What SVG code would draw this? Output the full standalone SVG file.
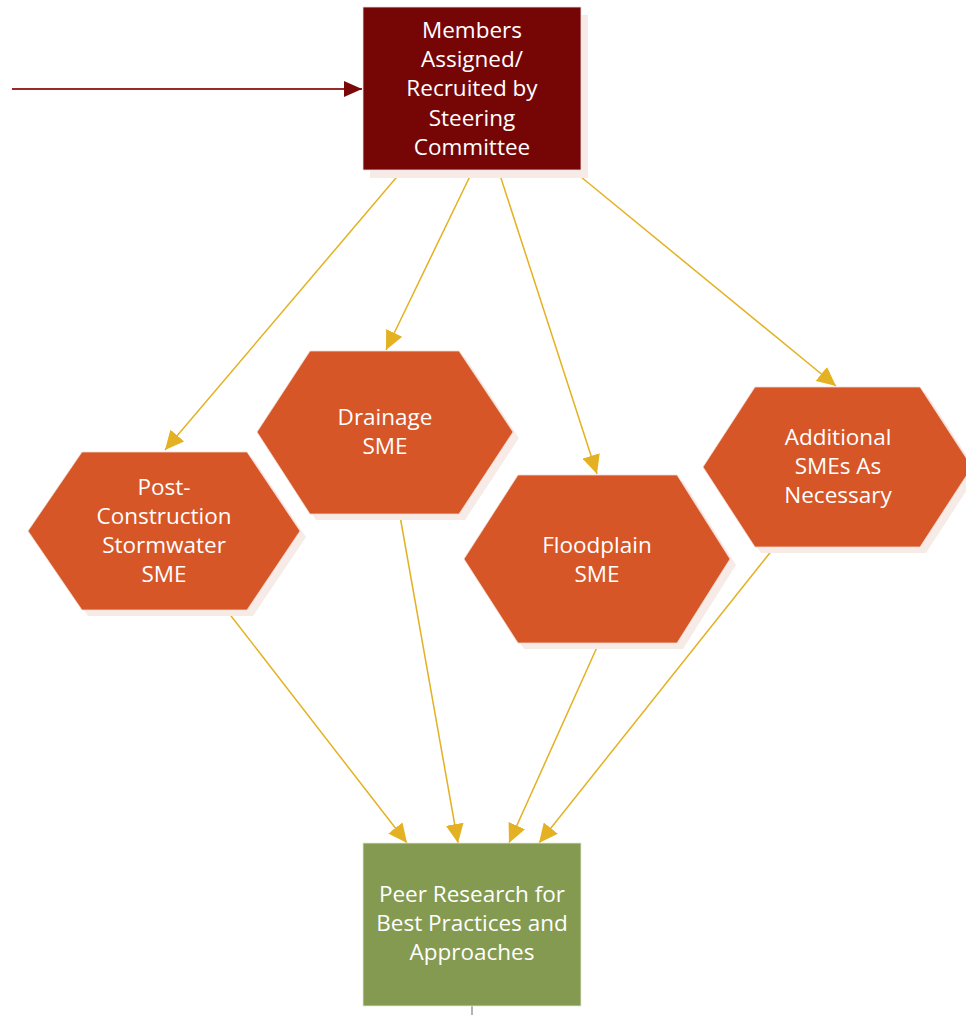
<svg xmlns="http://www.w3.org/2000/svg" width="966" height="1015" viewBox="0 0 966 1015">
<defs>
<style>
.t{font-family:"Open Sans","Noto Sans",sans-serif;font-size:22.5px;fill:#ffffff;text-anchor:middle}
.shadow{fill:#f7ebe8}
.hex{fill:#d65627;stroke:#f2d9cf;stroke-width:0.8}
.conn{stroke:#e3b121;stroke-width:1.5;fill:none;marker-end:url(#ya)}
</style>
<marker id="ya" viewBox="0 0 19 18" refX="19" refY="9" markerWidth="19" markerHeight="18" markerUnits="userSpaceOnUse" orient="auto">
<path d="M0,0 L19,9 L0,18 Z" fill="#e3b121"/>
</marker>
<marker id="ra" viewBox="0 0 18 16" refX="18" refY="8" markerWidth="18" markerHeight="16" markerUnits="userSpaceOnUse" orient="auto">
<path d="M0,0 L18,8 L0,16 Z" fill="#7a0808"/>
</marker>
</defs>
<rect width="966" height="1015" fill="#ffffff"/>

<g id="connectors">
<line x1="12" y1="89" x2="362" y2="89" stroke="#9a2a2a" stroke-width="1.8" marker-end="url(#ra)"/>
<line class="conn" x1="401" y1="172" x2="165" y2="450"/>
<line class="conn" x1="472" y1="172" x2="386" y2="350"/>
<line class="conn" x1="499" y1="172" x2="597" y2="474"/>
<line class="conn" x1="575" y1="172" x2="836" y2="386"/>
<line class="conn" x1="228" y1="612" x2="407" y2="843"/>
<line class="conn" x1="400" y1="516" x2="458" y2="843"/>
<line class="conn" x1="598" y1="645" x2="509" y2="843"/>
<line class="conn" x1="773" y1="549" x2="539" y2="843"/>
<line x1="472" y1="1006" x2="472" y2="1015" stroke="#9a9a9a" stroke-width="1.5"/>
</g>

<g id="members">
<rect class="shadow" x="370" y="15" width="218" height="163"/>
<rect x="363" y="7" width="218" height="163" fill="#760606" stroke="#f0dede" stroke-width="0.8"/>
<text class="t" x="472" y="38">Members</text>
<text class="t" x="472" y="67">Assigned/</text>
<text class="t" x="472" y="96">Recruited by</text>
<text class="t" x="472" y="126">Steering</text>
<text class="t" x="472" y="155">Committee</text>
</g>

<g id="postconstruction">
<polygon class="shadow" points="34,537 88,458 253,458 306,537 253,616 88,616"/>
<polygon class="hex" points="28,531 82,452 247,452 300,531 247,610 82,610"/>
<text class="t" x="164" y="495">Post-</text>
<text class="t" x="164" y="524">Construction</text>
<text class="t" x="164" y="553">Stormwater</text>
<text class="t" x="164" y="582">SME</text>
</g>

<g id="drainage">
<polygon class="shadow" points="263,438 316,357 465,357 519,438 465,520 316,520"/>
<polygon class="hex" points="257,432 310,351 459,351 513,432 459,514 310,514"/>
<text class="t" x="385" y="425">Drainage</text>
<text class="t" x="385" y="454">SME</text>
</g>

<g id="floodplain">
<polygon class="shadow" points="470,565 524,481 683,481 736,565 683,649 524,649"/>
<polygon class="hex" points="464,559 518,475 677,475 730,559 677,643 518,643"/>
<text class="t" x="597" y="553">Floodplain</text>
<text class="t" x="597" y="582">SME</text>
</g>

<g id="additional">
<polygon class="shadow" points="709,473 761,393 926,393 978,473 926,553 761,553"/>
<polygon class="hex" points="703,467 755,387 920,387 972,467 920,547 755,547"/>
<text class="t" x="838" y="445">Additional</text>
<text class="t" x="838" y="474">SMEs As</text>
<text class="t" x="838" y="503">Necessary</text>
</g>

<g id="peer">
<rect x="363" y="843" width="218" height="163" fill="#849a50" stroke="#e6ecd8" stroke-width="0.8"/>
<text class="t" x="472" y="902">Peer Research for</text>
<text class="t" x="472" y="931">Best Practices and</text>
<text class="t" x="472" y="960">Approaches</text>
</g>
</svg>
